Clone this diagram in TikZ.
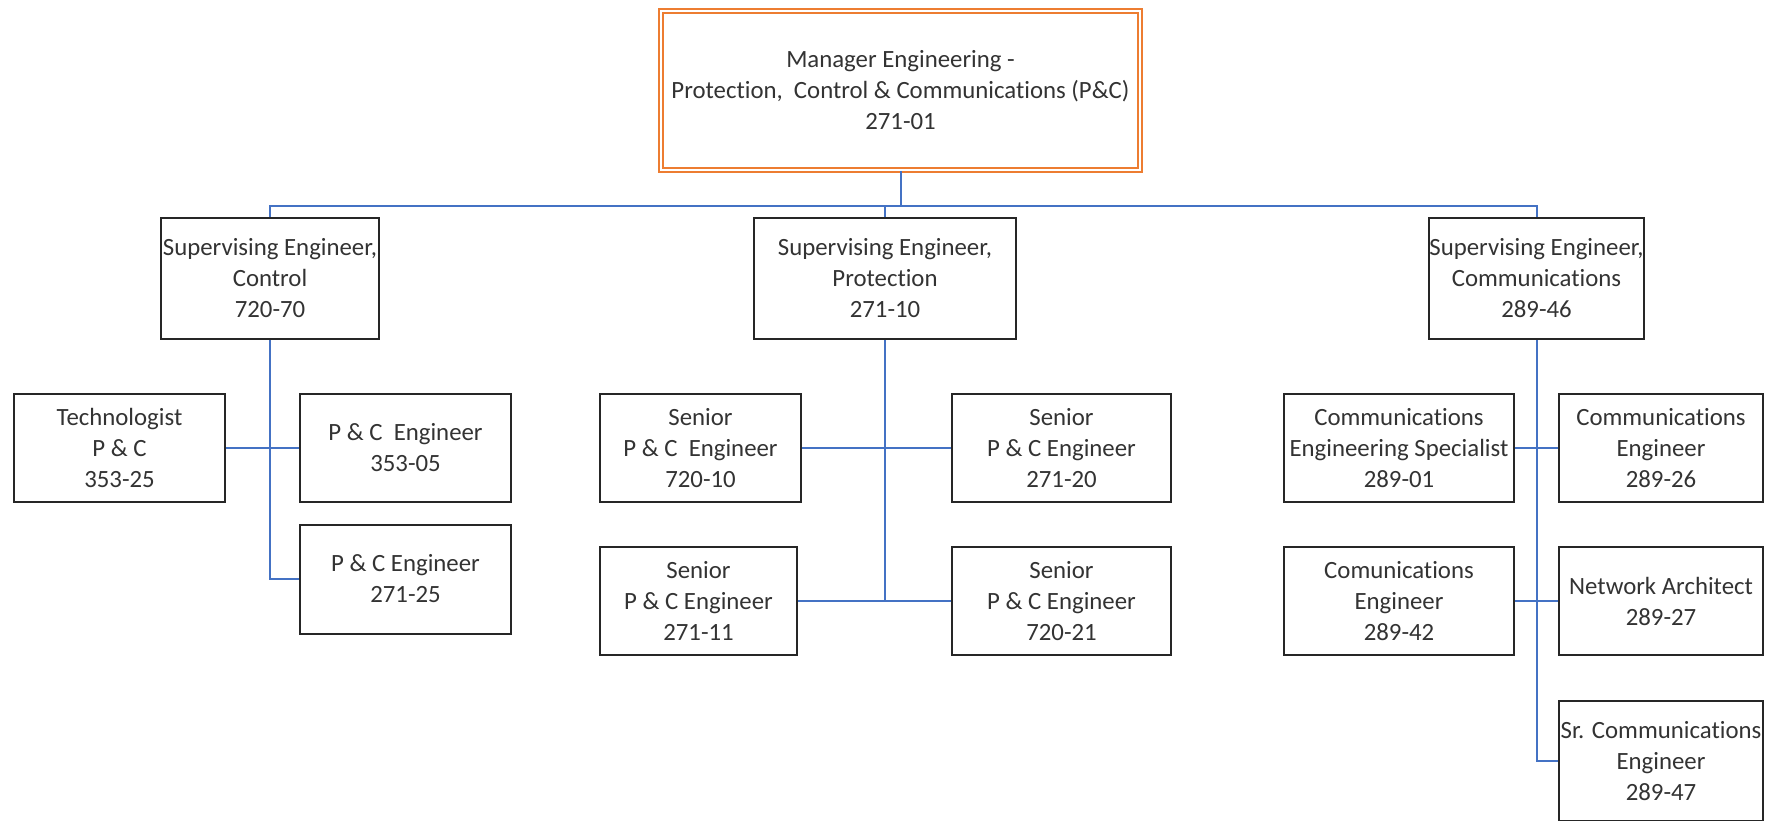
\documentclass[tikz,border=0pt]{standalone}
\usepackage{fontspec}
\setmainfont{Carlito}[Ligatures=NoCommon]
\usetikzlibrary{positioning}

\definecolor{mgrorange}{RGB}{237,125,49}
\definecolor{linkblue}{RGB}{68,114,196}
\definecolor{boxline}{RGB}{38,38,38}
\definecolor{textgray}{RGB}{51,51,51}

\newcommand{\chartfont}{\fontsize{12.4}{15.5}\selectfont}

\tikzset{
  posbox/.style={draw=boxline, line width=1pt, fill=white, align=center,
    inner sep=0pt, text=textgray, font=\chartfont,
    minimum width=105.5pt, minimum height=54pt},
  mgrbox/.style={posbox, draw=mgrorange, double=white, double distance=1pt,
    minimum width=239.5pt, minimum height=79.5pt},
  link/.style={draw=linkblue, line width=1pt},
}

\begin{document}
\begin{tikzpicture}[x=0.5pt, y=-0.5pt]
  \useasboundingbox (0,0) rectangle (1766,820);

  % manager
  \node[mgrbox] (mgr) at (900.5,90.5)
    {Manager Engineering -\\Protection,\ \ Control \& Communications (P\&C)\\271-01};

  % supervising engineers
  \node[posbox, minimum width=109pt, minimum height=60.5pt] (supC) at (270,278.5)
    {Supervising Engineer,\\Control\\720-70};
  \node[posbox, minimum width=131pt, minimum height=60.5pt] (supP) at (885,278.5)
    {Supervising Engineer,\\Protection\\271-10};
  \node[posbox, minimum width=107.5pt, minimum height=60.5pt] (supM) at (1536.5,278.5)
    {Supervising Engineer,\\Communications\\289-46};

  % control
  \node[posbox] (tech) at (119.5,447.5) {Technologist\\P \& C\\353-25};
  \node[posbox, right=36.5pt of tech] (pce1) {P \& C\ \ Engineer\\353-05};
  \node[posbox, below=10.5pt of pce1, minimum height=54.5pt] (pce2) {P \& C Engineer\\271-25};

  % protection
  \node[posbox, minimum width=100.5pt] (sen1) at (700.5,448) {Senior\\P \& C\ \ Engineer\\720-10};
  \node[posbox, minimum width=109.5pt] (sen2) at (1061.5,448) {Senior\\P \& C Engineer\\271-20};
  \node[posbox, minimum width=98.5pt] (sen3) at (698.5,601) {Senior\\P \& C Engineer\\271-11};
  \node[posbox, minimum width=109.5pt, below=21.5pt of sen2] (sen4) {Senior\\P \& C Engineer\\720-21};

  % communications
  \node[posbox, minimum width=115pt] (com1) at (1399,448)
    {Communications\\Engineering Specialist\\289-01};
  \node[posbox, minimum width=102pt] (com2) at (1661,448)
    {Communications\\Engineer\\289-26};
  \node[posbox, minimum width=115pt, below=21.5pt of com1] (com3)
    {Comunications\\Engineer\\289-42};
  \node[posbox, minimum width=102pt, below=21.5pt of com2] (com4)
    {Network Architect\\289-27};
  \node[posbox, minimum width=102pt, minimum height=60pt, below=22pt of com4] (com5)
    {Sr. Communications\\Engineer\\289-47};

  % connectors
  \coordinate (bus) at (900,206);
  \draw[link] (mgr.south) -- (mgr.south |- bus);
  \draw[link] (supC.north) -- (supC.north |- bus) -- (supM.north |- bus) -- (supM.north);
  \draw[link] (supP.north) -- (supP.north |- bus);

  \draw[link] (supC.south) |- (pce2.west);
  \draw[link] (tech.east) -- (pce1.west);

  \draw[link] (supP.south) -- (supP.south |- sen3.east);
  \draw[link] (sen1.east) -- (sen2.west);
  \draw[link] (sen3.east) -- (sen4.west);

  \draw[link] (supM.south) |- (com5.west);
  \draw[link] (com1.east) -- (com2.west);
  \draw[link] (com3.east) -- (com4.west);
\end{tikzpicture}
\end{document}
